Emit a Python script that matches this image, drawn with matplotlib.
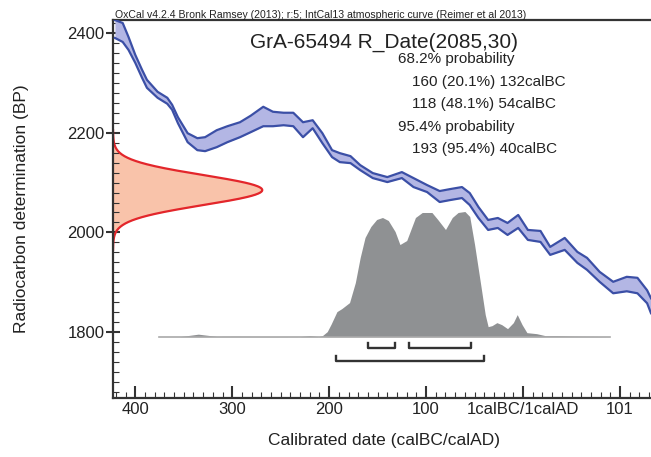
import numpy as np
import matplotlib
matplotlib.use('Agg')
import matplotlib.pyplot as plt
from matplotlib.ticker import MultipleLocator

plt.rcParams['font.family'] = ['Liberation Sans', 'DejaVu Sans']

# IntCal13 band (year: negative = BC)
curve_year = [-421, -413, -407, -400, -393, -388, -377, -367, -362, -356, -346, -336,
              -328, -316, -305, -292, -281, -268, -258, -247, -237, -227, -217, -207,
              -197, -189, -178, -168, -155, -140, -125, -113, -99, -86, -75, -63, -55,
              -46, -36, -26, -16, -5, 5, 18, 28, 43, 56, 66, 79, 93, 107, 118, 128, 132]
curve_hi = [2426, 2420, 2392, 2356, 2326, 2306, 2282, 2270, 2256, 2231, 2199, 2189,
            2191, 2205, 2213, 2221, 2234, 2252, 2242, 2240, 2240, 2221, 2225, 2199,
            2165, 2159, 2153, 2135, 2119, 2111, 2121, 2109, 2095, 2083, 2087, 2091, 2079,
            2051, 2025, 2029, 2019, 2035, 2005, 2003, 1971, 1989, 1961, 1949, 1921, 1901,
            1911, 1909, 1884, 1868]
curve_lo = [2390, 2382, 2366, 2340, 2310, 2290, 2270, 2258, 2246, 2219, 2181, 2165,
            2163, 2171, 2181, 2191, 2201, 2213, 2213, 2215, 2213, 2191, 2209, 2179,
            2151, 2141, 2139, 2125, 2109, 2101, 2109, 2091, 2081, 2061, 2065, 2069, 2055,
            2029, 2005, 2009, 1995, 2009, 1985, 1981, 1955, 1965, 1939, 1925, 1901, 1878,
            1882, 1878, 1858, 1838]

# radiocarbon date
r_mean = 2085
r_sd = 30

# calibrated distribution (relative probability)
cal_year = [-376, -354, -335, -316, -297, -230, -220, -211, -207, -202, -198, -192,
            -187, -179, -173, -168, -163, -157, -151, -145, -139, -132, -127, -120,
            -111, -104, -94, -88, -80, -73, -67, -60, -55, -50, -44, -39, -36, -32,
            -27, -22, -16, -10, -6, -1, 4, 14, 23, 35, 52, 90]
cal_prob = [0, 0, 0.02, 0.002, 0.003, 0, 0.008, 0, 0.008, 0.04, 0.1, 0.2,
            0.224, 0.272, 0.432, 0.632, 0.792, 0.88, 0.936, 0.952, 0.928, 0.84, 0.736, 0.768,
            0.952, 0.992, 0.992, 0.936, 0.856, 0.952, 0.992, 1.0, 0.96, 0.736,
            0.432, 0.176, 0.08, 0.088, 0.112, 0.096, 0.064, 0.112, 0.176, 0.096,
            0.032, 0.024, 0.008, 0.008, 0.004, 0]

range68 = [(-160, -132), (-118, -54)]
range95 = [(-193, -40)]

xticks = [-400, -300, -200, -100, 0, 100]
xticklabels = ['400', '300', '200', '100', '1calBC/1calAD', '101']
yticks = [1800, 2000, 2200, 2400]

prob_lines = ['68.2% probability', '160 (20.1%) 132calBC', '118 (48.1%) 54calBC',
              '95.4% probability', '193 (95.4%) 40calBC']

fig = plt.figure(figsize=(6.51, 4.57), dpi=100)
ax = fig.add_axes([113/651, 1 - 398/457, 1 - 113/651, 378/457])
ax.set_xlim(-423, 132)
ax.set_ylim(1668, 2426)

# measured date on the y axis
bp = np.linspace(r_mean - 4*r_sd, r_mean + 4*r_sd, 300)
dens = np.exp(-0.5*((bp - r_mean)/r_sd)**2)
x0 = ax.get_xlim()[0]
ax.fill_betweenx(bp, x0, x0 + 154*dens, color='#f9c3aa', lw=0, zorder=1)
ax.plot(x0 + 154*dens, bp, color='#e3262b', lw=1.6, zorder=2)

# calibration curve
ax.fill_between(curve_year, curve_lo, curve_hi, color='#b3b6e4', lw=0, zorder=3)
ax.plot(curve_year, curve_hi, color='#3b4fa6', lw=1.6, zorder=4, solid_joinstyle='round')
ax.plot(curve_year, curve_lo, color='#3b4fa6', lw=1.6, zorder=4, solid_joinstyle='round')

# calibrated distribution
base = 1791
scale = 251
cal_top = base + scale*np.array(cal_prob)
ax.fill_between(cal_year, base, cal_top, color='#8f9193', lw=0, zorder=5)
ax.plot([cal_year[0], cal_year[-1]], [base, base], color='#a9a9a9', lw=1.2, zorder=5)

# ranges
for a, b in range68:
    ax.plot([a, a, b, b], [1778, 1768, 1768, 1778], color='#333333', lw=1.7, zorder=6)
for a, b in range95:
    ax.plot([a, a, b, b], [1753, 1742, 1742, 1753], color='#333333', lw=1.7, zorder=6)

# axes styling
for s in ['left', 'bottom', 'top']:
    ax.spines[s].set_linewidth(1.6)
    ax.spines[s].set_color('#333333')
ax.spines['right'].set_visible(False)
ax.set_xticks(xticks)
ax.set_xticklabels(xticklabels)
ax.set_yticks(yticks)
ax.xaxis.set_minor_locator(MultipleLocator(10))
ax.yaxis.set_minor_locator(MultipleLocator(20))
ax.tick_params(axis='x', which='major', direction='in', length=9, width=1.5,
               color='#333333', labelsize=12, pad=3, labelcolor='#222222')
ax.tick_params(axis='x', which='minor', direction='in', length=4, width=0.8, color='#333333')
ax.tick_params(axis='y', which='major', direction='inout', length=10, width=1.5,
               color='#333333', labelsize=12, pad=1, labelcolor='#222222')
ax.tick_params(axis='y', which='minor', direction='in', length=4, width=0.8, color='#333333')

fig.text(384/651, 1 - 445/457, 'Calibrated date (calBC/calAD)', ha='center', va='baseline',
         fontsize=12.5, color='#222222')
fig.text(22/651, 1 - 209/457, 'Radiocarbon determination (BP)', ha='center', va='center',
         rotation=90, fontsize=12.5, color='#222222')

fig.text(115/651, 1 - 17.5/457,
         'OxCal v4.2.4 Bronk Ramsey (2013); r:5; IntCal13 atmospheric curve (Reimer et al 2013)',
         ha='left', va='baseline', fontsize=7.6, color='#222222')
fig.text(384/651, 1 - 48/457, 'GrA-65494 R_Date(2085,30)', ha='center', va='baseline',
         fontsize=15, color='#222222')
line_y = [63, 86, 108, 131, 153]
line_x = [398, 412, 412, 398, 412]
for t, lx, ly in zip(prob_lines, line_x, line_y):
    fig.text(lx/651, 1 - ly/457, t, ha='left', va='baseline', fontsize=11, color='#222222')

fig.savefig('out.png', dpi=100)
plt.close('all')
